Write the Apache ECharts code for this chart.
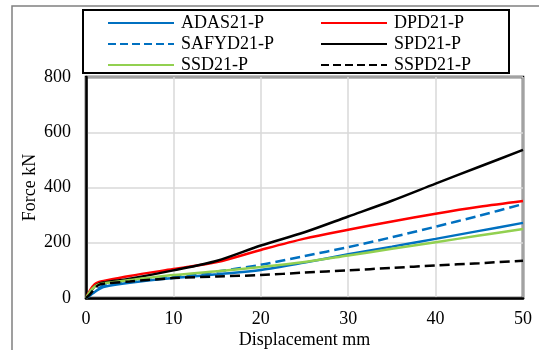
<!DOCTYPE html>
<html><head><meta charset="utf-8">
<script src="https://cdn.jsdelivr.net/npm/echarts@6/dist/echarts.min.js"></script>
<style>html,body{margin:0;padding:0;background:#fff}#c{width:539px;height:350px}</style>
</head><body><div id="c"></div>
<script>
var xs = [0, 0.5, 1, 1.5, 2, 5, 10, 15, 20, 25, 30, 35, 40, 45, 50];
var seriesNames = ['ADAS21-P', 'DPD21-P', 'SAFYD21-P', 'SPD21-P', 'SSD21-P', 'SSPD21-P'];
var adas  = [0, 10, 22, 32, 40, 55, 72, 86, 101, 128, 158, 186, 214, 243, 272];
var dpd   = [0, 30, 50, 58, 62, 80, 105, 130, 174, 215, 247, 277, 305, 330, 351];
var safyd = [0, 12, 25, 36, 44, 58, 75, 96, 120, 152, 184, 220, 258, 298, 340];
var spd   = [0, 22, 42, 52, 56, 70, 100, 135, 190, 238, 295, 352, 414, 475, 536];
var ssd   = [0, 25, 42, 50, 53, 65, 83, 97, 112, 130, 154, 178, 202, 226, 250];
var sspd  = [0, 15, 35, 48, 52, 60, 72, 78, 83, 92, 100, 109, 118, 126, 135];
var xTicks = [0, 10, 20, 30, 40, 50];
var yTicks = [0, 200, 400, 600, 800];

var values = [adas, dpd, safyd, spd, ssd, sspd];
var colors = ['#0070C0', '#FF0000', '#0070C0', '#000000', '#92D050', '#000000'];
var types = ['solid', 'solid', 'dashed', 'solid', 'solid', 'dashed'];
var font = 'Liberation Serif';

var chart = echarts.init(document.getElementById('c'), null, {renderer: 'canvas'});
var series = values.map(function (v, i) {
  return {
    name: seriesNames[i], type: 'line', symbol: 'none', smooth: 0.3,
    data: xs.map(function (x, j) { return [x, v[j]]; }),
    lineStyle: {color: colors[i], width: 2.5, type: types[i]},
    itemStyle: {color: colors[i]}
  };
});
var legendCommon = {
  orient: 'vertical', itemWidth: 66, itemHeight: 10, itemGap: 3,
  itemStyle: {opacity: 0},
  textStyle: {fontFamily: font, fontSize: 18, color: '#000', padding: [0, 0, 0, 2]},
  padding: 0
};
chart.setOption({
  animation: false,
  textStyle: {fontFamily: font, fontSize: 18, color: '#000'},
  grid: {left: 86, top: 77, right: 16, bottom: 52, outerBoundsMode: 'none', containLabel: false,
         show: true, borderColor: '#000', borderWidth: 2.5, backgroundColor: 'transparent'},
  legend: [
    Object.assign({left: 107, top: 14, data: [seriesNames[0], seriesNames[2], seriesNames[4]]}, legendCommon),
    Object.assign({left: 320, top: 14, data: [seriesNames[1], seriesNames[3], seriesNames[5]]}, legendCommon)
  ],
  xAxis: {
    type: 'value', min: xTicks[0], max: xTicks[xTicks.length - 1], interval: 10,
    name: 'Displacement mm', nameLocation: 'middle', nameGap: 33, nameMoveOverlap: false,
    nameTextStyle: {fontFamily: font, fontSize: 18, color: '#000'},
    axisLine: {lineStyle: {color: '#000', width: 2.5}},
    axisTick: {show: false},
    axisLabel: {fontFamily: font, fontSize: 18, color: '#000', margin: 12},
    splitLine: {show: true, lineStyle: {color: '#d9d9d9', width: 1.5}}
  },
  yAxis: {
    type: 'value', min: yTicks[0], max: yTicks[yTicks.length - 1], interval: 200,
    name: 'Force kN', nameLocation: 'middle', nameGap: 47, nameMoveOverlap: false,
    nameTextStyle: {fontFamily: font, fontSize: 18, color: '#000'},
    axisLine: {show: true, lineStyle: {color: '#000', width: 2.5}},
    axisTick: {show: false},
    axisLabel: {fontFamily: font, fontSize: 18, color: '#000', margin: 15},
    splitLine: {show: true, lineStyle: {color: '#d9d9d9', width: 1.5}}
  },
  graphic: [
    {type: 'rect', shape: {x: 12, y: 6, width: 560, height: 400}, style: {fill: 'none', stroke: '#808080', lineWidth: 1.5}, silent: true},
    {type: 'rect', shape: {x: 83, y: 10, width: 426, height: 63}, style: {fill: 'none', stroke: '#000', lineWidth: 2}, silent: true}
  ],
  series: series
});
</script></body></html>
